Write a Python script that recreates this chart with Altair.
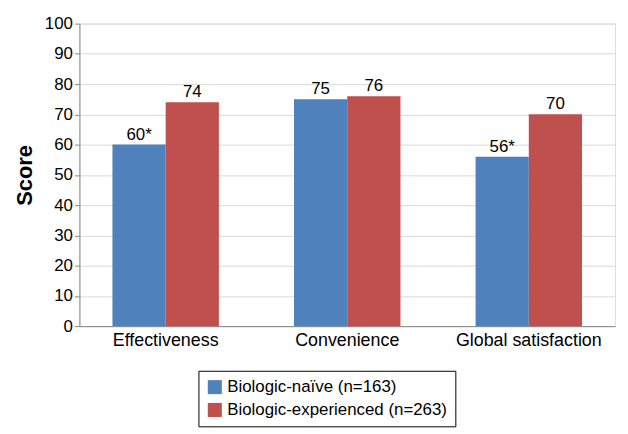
import pandas as pd
import altair as alt

categories = ["Effectiveness", "Convenience", "Global satisfaction"]
groups = ["Biologic-naïve (n=163)", "Biologic-experienced (n=263)"]
naive = [60, 75, 56]
experienced = [74, 76, 70]
labels_naive = ["60*", "75", "56*"]
labels_exp = ["74", "76", "70"]

rows = []
for i, c in enumerate(categories):
    rows.append({"category": c, "group": groups[0], "score": naive[i], "label": labels_naive[i]})
    rows.append({"category": c, "group": groups[1], "score": experienced[i], "label": labels_exp[i]})
source = pd.DataFrame(rows)

x = alt.X("category:N", sort=categories, title=None,
          scale=alt.Scale(paddingInner=0.15, paddingOuter=0.05),
          axis=alt.Axis(labelAngle=0, labelFontSize=18, labelColor="black", grid=False,
                        domainColor="#888", ticks=False, labelPadding=6))
xoff = alt.XOffset("group:N", sort=groups, scale=alt.Scale(paddingInner=0, paddingOuter=0.45))
y = alt.Y("score:Q", title="Score", scale=alt.Scale(domain=[0, 100]),
          axis=alt.Axis(values=list(range(0, 101, 10)), labelFontSize=17, labelColor="black",
                        titleFontSize=22, titleFontWeight="bold", titleColor="black",
                        gridColor="#d9d9d9", domainColor="#888", tickColor="#888", titlePadding=8))

base = alt.Chart(source).encode(x=x, xOffset=xoff, y=y)

bars = base.mark_bar().encode(
    color=alt.Color("group:N", sort=groups, title=None,
                    scale=alt.Scale(domain=groups, range=["#4F81BD", "#C0504D"]),
                    legend=alt.Legend(orient="none", legendX=120, legendY=350,
                                      strokeColor="black", padding=8, labelFontSize=17,
                                      labelColor="black", symbolType="square",
                                      symbolSize=200, symbolStrokeWidth=0, rowPadding=5,
                                      labelLimit=400))
)
text = base.mark_text(dy=-10, fontSize=17, color="black").encode(text="label:N")

chart = (bars + text).properties(width=540, height=305).configure_view(stroke=None).configure(
    font="Liberation Sans")

chart.save("out.html", embed_options={"renderer": "svg", "actions": False})
